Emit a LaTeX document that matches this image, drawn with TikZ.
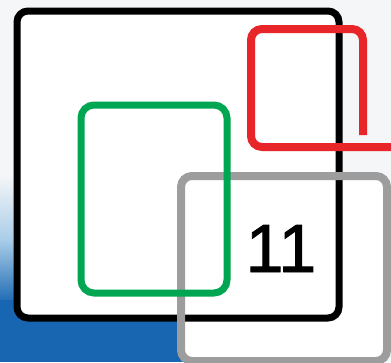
\documentclass[tikz,border=0pt]{standalone}
\usepackage{fontspec}
\setmainfont{Liberation Sans}
\newfontfamily\numfont[FakeBold=1.4]{Liberation Sans}
\usepackage{tikz}
\definecolor{bgpaper}{HTML}{F5F6F8}
\definecolor{seablue}{HTML}{1866B1}
\definecolor{paleblue}{HTML}{A9CDE8}
\definecolor{framered}{HTML}{E8262A}
\definecolor{framegreen}{HTML}{00A651}
\definecolor{framegray}{HTML}{9D9D9D}

\begin{document}
\begin{tikzpicture}[x=1pt, y=-1pt,
  frame/.style={line width=#1, rounded corners=11pt},
  sheet/.style={fill=white, rounded corners=11pt}]

\useasboundingbox (0,0) rectangle (391,362);
\clip (0,0) rectangle (391,362);

% background
\fill[bgpaper] (0,0) rectangle (391,362);
\shade[top color=bgpaper, bottom color=seablue, middle color=paleblue] (0,175) rectangle (20,305);
\fill[seablue] (0,300) rectangle (185,362);

% white sheets
\fill[sheet] (17,11) rectangle (339,318);
\fill[sheet] (181,176) rectangle (387,361);

% black frame
\draw[frame=7pt, black] (17,11) rectangle (339,318);

% gray frame
\draw[frame=8pt, framegray] (181,176) rectangle (387,361);

% green frame
\draw[frame=7pt, framegreen, rounded corners=13pt] (81,105) rectangle (227,293);

% red frame (open)
\draw[frame=8pt, framered] (363,135) -- (363,29) -- (251,29) -- (251,147) -- (400,147);

% number
\node[font=\numfont\fontsize{68}{68}\selectfont, anchor=base, inner sep=0pt] (num) at (281,272) {11};

\end{tikzpicture}
\end{document}
